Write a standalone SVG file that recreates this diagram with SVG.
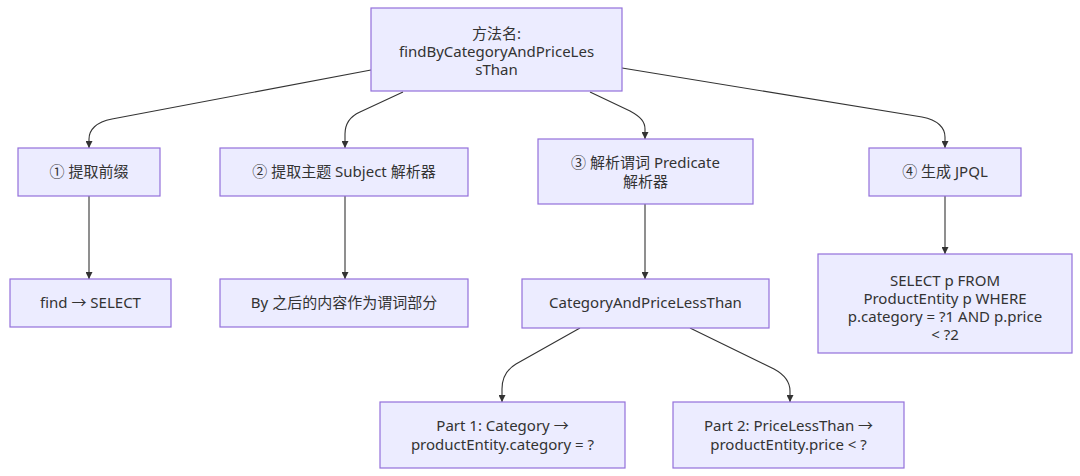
<svg xmlns="http://www.w3.org/2000/svg" width="1080" height="476" viewBox="0 0 1080 476">
<defs>
<marker id="arrow" viewBox="0 0 10 10" refX="10" refY="5" markerWidth="7" markerHeight="7" orient="auto" markerUnits="userSpaceOnUse">
<path d="M0,0 L10,5 L0,10 z" fill="#333333"/>
</marker>
<style>
.node rect{fill:#ECECFF;stroke:#9370DB;stroke-width:1.2;}
.node text{font-family:"Noto Sans","Noto Sans CJK SC",sans-serif;font-size:15px;fill:#333333;text-anchor:middle;}
.edges path{fill:none;stroke:#333333;stroke-width:1.1;marker-end:url(#arrow);}
</style>
</defs>
<rect width="1080" height="476" fill="#ffffff"/>
<g class="edges">
<path d="M371,70 L112,119 C96,122 89,130 89,139 L89,148"/>
<path d="M403,92 L360,112 C349,117 345,124 345,134 L345,148"/>
<path d="M590,92 L630,111 C641,117 645,122 645,129 L645,139"/>
<path d="M622,68 L922,117 C938,120 945,128 945,137 L945,148"/>
<path d="M89,196 L89,279"/>
<path d="M345,196 L345,279"/>
<path d="M645,204 L645,279"/>
<path d="M945,196 L945,254"/>
<path d="M580,328 L516,364 C506,370 502,378 502,389 L502,402"/>
<path d="M690,328 L774,369 C785,375 790,382 790,391 L790,402"/>
</g>
<g id="top" class="node"><rect x="371" y="8" width="251" height="83"/>
<text x="496.5" y="39">方法名:</text>
<text x="496.5" y="57">findByCategoryAndPriceLes</text>
<text x="496.5" y="75">sThan</text></g>
<g id="n1" class="node"><rect x="18" y="148" width="142" height="48"/><text x="89" y="177">① 提取前缀</text></g>
<g id="n2" class="node"><rect x="220" y="148" width="248" height="48"/><text x="344" y="177">② 提取主题 Subject 解析器</text></g>
<g id="n3" class="node"><rect x="538" y="139" width="215" height="65"/>
<text x="645.5" y="168">③ 解析谓词 Predicate</text>
<text x="645.5" y="187">解析器</text></g>
<g id="n4" class="node"><rect x="869" y="148" width="152" height="48"/><text x="945" y="177">④ 生成 JPQL</text></g>
<g id="r1" class="node"><rect x="10" y="279" width="161" height="48"/><text x="90.5" y="308">find → SELECT</text></g>
<g id="r2" class="node"><rect x="220" y="279" width="248" height="48"/><text x="344" y="308">By 之后的内容作为谓词部分</text></g>
<g id="r3" class="node"><rect x="522" y="279" width="247" height="49"/><text x="645.5" y="308">CategoryAndPriceLessThan</text></g>
<g id="r4" class="node"><rect x="818" y="254" width="254" height="99"/>
<text x="945" y="286">SELECT p FROM</text>
<text x="945" y="304">ProductEntity p WHERE</text>
<text x="945" y="322">p.category = ?1 AND p.price</text>
<text x="945" y="340">&lt; ?2</text></g>
<g id="p1" class="node"><rect x="380" y="402" width="245" height="66"/>
<text x="502.5" y="431">Part 1: Category →</text>
<text x="502.5" y="450">productEntity.category = ?</text></g>
<g id="p2" class="node"><rect x="673" y="402" width="231" height="66"/>
<text x="788.5" y="431">Part 2: PriceLessThan →</text>
<text x="788.5" y="450">productEntity.price &lt; ?</text></g>
</svg>
